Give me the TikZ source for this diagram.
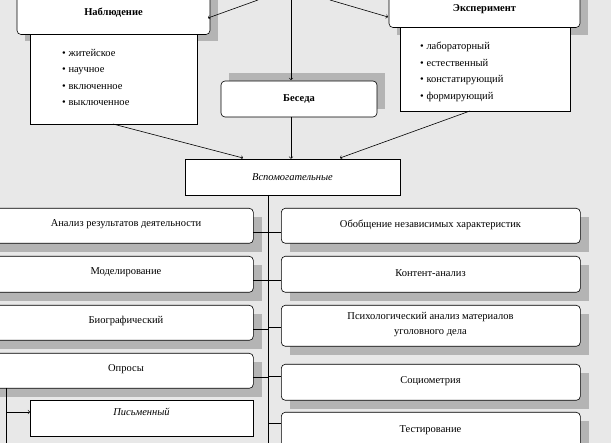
\documentclass[tikz,border=0pt]{standalone}
\usepackage{fontspec}
\setmainfont{Liberation Serif}
\usetikzlibrary{calc}
\definecolor{bgc}{HTML}{E8E8E8}
\definecolor{shd}{HTML}{B4B4B4}
\begin{document}
\begin{tikzpicture}[x=1pt,y=-1pt,font=\fontsize{10.5}{12}\selectfont,
rbox/.style={draw,rounded corners=4pt,fill=white,semithick,inner sep=0pt},
pbox/.style={draw,fill=white,semithick,inner sep=0pt},
conn/.style={semithick},
arr/.style={semithick,->,>=to}]

\useasboundingbox[fill=bgc] (0,0) rectangle (611,443);
\clip (0,0) rectangle (611,443);

% shadows
\fill[shd] (25,-10) rectangle (218,41);
\fill[shd] (397,-10) rectangle (588,35);
\fill[shd] (229,73) rectangle (385,109);
\foreach \ya/\yb in {208/243,256/292,305/340,353/388}
  \fill[shd] (-10,{\ya+9}) rectangle (262,{\yb+9});
\foreach \ya/\yb in {208/243,256/292,305/346,364/400,412/450}
  \fill[shd] (290,{\ya+9}) rectangle (589,{\yb+9});

% upper part
\draw[pbox] (30,33) rectangle (197,124);
\draw[pbox] (400,27) rectangle (570,111);
\node[rbox,minimum width=193pt,minimum height=43pt,font=\bfseries\fontsize{10.5}{12}\selectfont] (nab) at (113.5,13) {Наблюдение};
\node[rbox,minimum width=191pt,minimum height=37pt,font=\bfseries\fontsize{10.5}{12}\selectfont] (exp) at (484.5,9) {Эксперимент};
\node[anchor=north west,align=left,inner sep=0pt] (nabl) at (62,49) {%
\textbullet\ житейское\\[4.5pt]\textbullet\ научное\\[4.5pt]\textbullet\ включенное\\[4.5pt]\textbullet\ выключенное};
\node[anchor=north west,align=left,inner sep=0pt] (expl) at (420,42) {%
\textbullet\ лабораторный\\[4.5pt]\textbullet\ естественный\\[4.5pt]\textbullet\ констатирующий\\[4.5pt]\textbullet\ формирующий};
\node[rbox,minimum width=156pt,minimum height=36pt,font=\bfseries\fontsize{10.5}{12}\selectfont] (bes) at (299,99) {Беседа};
\node[pbox,minimum width=215pt,minimum height=36pt,font=\itshape\fontsize{10.5}{12}\selectfont] (vsp) at (292.5,177) {Вспомогательные};

\coordinate (t1) at (258,0);
\coordinate (t2) at (291,0);
\coordinate (t3) at (330,0);
\draw[arr] (t1) -- (208,18);
\draw[arr] (t2) -- (291,80);
\draw[arr] (t3) -- (388,17);
\draw[arr] (113,124) -- (243,158);
\draw[arr] (291,117) -- (vsp.north -| 291,0);
\draw[arr] (470,111) -- (340,158);

% lower part
\draw[conn] (268,195) -- (268,443);
\foreach \n/\ya/\yb/\t in {a/208/243/{Анализ результатов деятельности},
  b/256/292/Моделирование, c/305/340/Биографический, d/353/388/Опросы}
{
  \node[rbox,minimum width=263pt,minimum height={\yb-\ya},anchor=north west] (L\n) at (-10,\ya) {};
  \node at (126,{\ya+16}) {\t};
  \draw[conn] (253,{\ya+24}) -- (268,{\ya+24});
}
\foreach \n/\ya/\yb/\yc/\t in {a/208/243/232/{Обобщение независимых характеристик},
  b/256/292/280/Контент-анализ, c/305/346/327/{Психологический анализ материалов\\уголовного дела},
  d/364/400/376/Социометрия, e/412/450/423/Тестирование}
{
  \node[rbox,minimum width=299pt,minimum height={\yb-\ya},anchor=north west] (R\n) at (281,\ya) {};
  \node[align=center,font=\fontsize{10.5}{15}\selectfont] at (430.5,{(\ya+\yb)/2-1}) {\t};
  \draw[conn] (268,\yc) -- (281,\yc);
}
\node[pbox,minimum width=223pt,minimum height=36pt,anchor=north west] (pis) at (30,400) {};
\node[font=\itshape\fontsize{10.5}{12}\selectfont] at (141.5,412) {Письменный};
\draw[conn] (6,388) -- (6,443);
\draw[arr] (6,412) -- (pis.west |- 0,412);
\end{tikzpicture}
\end{document}
